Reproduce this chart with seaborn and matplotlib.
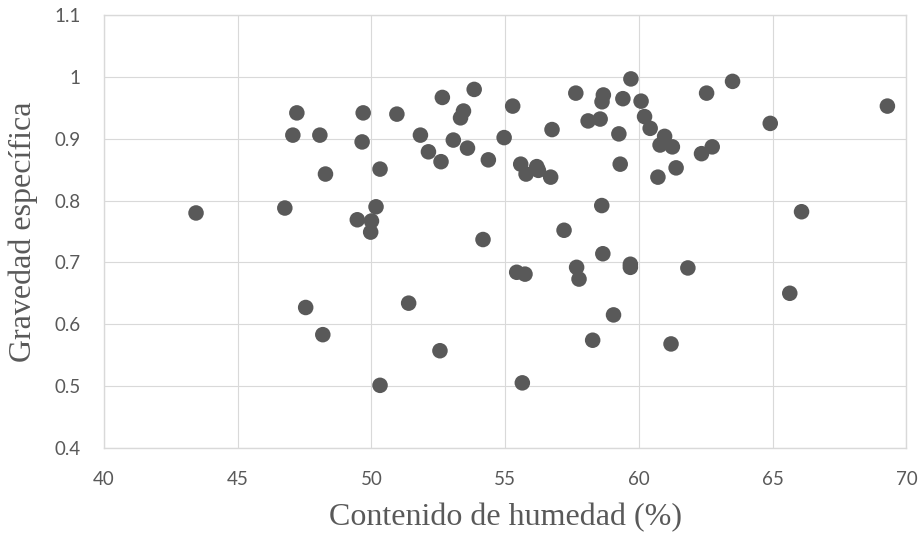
import numpy as np
import pandas as pd
import seaborn as sns
import matplotlib.pyplot as plt

# Contenido de humedad (%) y gravedad específica
humedad = [43.44, 47.21, 47.06, 48.07, 48.28, 46.76, 49.69, 49.65, 50.95, 50.32,
           50.17, 49.47, 50.00, 49.97, 47.54, 48.18, 50.32, 51.39, 52.56, 54.17,
           51.83, 52.13, 52.60, 52.65, 53.84, 53.44, 53.33, 53.06, 53.59, 54.37,
           54.96, 55.28, 55.43, 55.74, 55.58, 55.78, 56.18, 56.24, 56.70, 56.75,
           55.64, 57.20, 57.64, 58.10, 58.55, 58.67, 58.62, 59.40, 59.70, 60.08,
           60.21, 60.42, 59.25, 59.30, 58.61, 58.65, 57.67, 57.76, 59.68, 59.68,
           59.05, 58.27, 61.20, 61.83, 60.96, 60.79, 61.25, 60.71, 61.39, 62.34,
           62.74, 62.53, 63.50, 64.91, 66.08, 65.64, 69.29]
gravedad = [0.780, 0.942, 0.906, 0.906, 0.843, 0.788, 0.942, 0.895, 0.940, 0.851,
            0.790, 0.769, 0.767, 0.749, 0.627, 0.583, 0.501, 0.634, 0.557, 0.737,
            0.906, 0.879, 0.863, 0.967, 0.980, 0.945, 0.934, 0.898, 0.885, 0.866,
            0.902, 0.953, 0.684, 0.681, 0.859, 0.843, 0.855, 0.849, 0.838, 0.915,
            0.505, 0.752, 0.974, 0.929, 0.932, 0.971, 0.960, 0.965, 0.997, 0.961,
            0.936, 0.917, 0.908, 0.859, 0.792, 0.714, 0.692, 0.673, 0.697, 0.692,
            0.615, 0.574, 0.568, 0.691, 0.904, 0.890, 0.887, 0.838, 0.853, 0.876,
            0.887, 0.974, 0.993, 0.925, 0.782, 0.650, 0.953]

df = pd.DataFrame({'humedad': humedad, 'gravedad': gravedad})

sns.set_style("whitegrid", {'grid.color': '#d9d9d9', 'axes.edgecolor': '#d9d9d9'})
fig = plt.figure(figsize=(9.23, 5.38), dpi=100)
ax = fig.add_axes([0.1127, 0.1678, 0.8693, 0.8038])
sns.scatterplot(x='humedad', y='gravedad', data=df, s=125, color='#595959',
                edgecolor='none', linewidth=0, ax=ax)

ax.set_xlim(40, 70)
ax.set_ylim(0.4, 1.1)
ax.set_xticks(np.arange(40, 71, 5))
ax.set_yticks(np.arange(0.4, 1.11, 0.1))
ax.set_yticklabels(['0.4', '0.5', '0.6', '0.7', '0.8', '0.9', '1', '1.1'])
for lab in ax.get_xticklabels() + ax.get_yticklabels():
    lab.set_family(['Lato', 'DejaVu Sans'])
    lab.set_fontsize(13.5)
    lab.set_color('#595959')
ax.tick_params(axis='x', pad=17, length=0)
ax.tick_params(axis='y', pad=17, length=0)
for sp in ax.spines.values():
    sp.set_color('#d9d9d9')
    sp.set_linewidth(1)

ax.set_xlabel('Contenido de humedad (%)', family='Liberation Serif', fontsize=23,
              color='#595959', va='center')
ax.set_ylabel('Gravedad específica', family='Liberation Serif', fontsize=23,
              color='#595959', va='center')
ax.xaxis.set_label_coords(0.5, -0.1626)
ax.yaxis.set_label_coords(-0.101, 0.5)

fig.savefig('out.png', dpi=100)
